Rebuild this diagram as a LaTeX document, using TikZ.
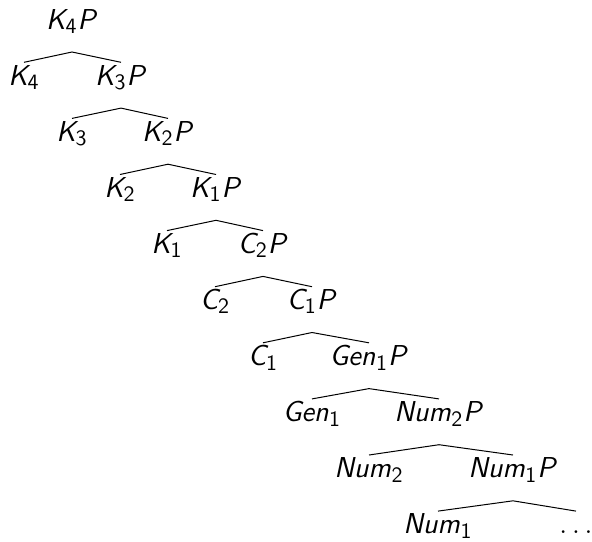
\documentclass[tikz,border=0pt]{standalone}
\DeclareMathAlphabet{\mathsfit}{OT1}{cmss}{m}{sl}
\newcommand{\cat}[2]{$\mathsfit{#1}_{\mathsf{#2}}$}
\newcommand{\catp}[2]{$\mathsfit{#1}_{\mathsf{#2}}\mathsfit{P}$}
\begin{document}
\begin{tikzpicture}[x=0.5pt,y=-0.5pt,
  lbl/.style={inner sep=0.6pt,anchor=base,text height=10.6pt,text depth=3pt,
    font=\fontsize{15}{17}\selectfont},
  edge/.style={line width=0.5pt}]
\useasboundingbox (0,0) rectangle (592,541);
\def\st{56.1}
% row 1
\node[lbl] (r1) at (72,29) {\catp{K}{4}};
% row 2
\node[lbl] (l2) at (24,29+\st) {\cat{K}{4}};
\node[lbl] (r2) at (121,29+\st) {\catp{K}{3}};
% row 3
\node[lbl] (l3) at (72,29+2*\st) {\cat{K}{3}};
\node[lbl] (r3) at (168,29+2*\st) {\catp{K}{2}};
% row 4
\node[lbl] (l4) at (120,29+3*\st) {\cat{K}{2}};
\node[lbl] (r4) at (216,29+3*\st) {\catp{K}{1}};
% row 5
\node[lbl] (l5) at (167,29+4*\st) {\cat{K}{1}};
\node[lbl] (r5) at (263,29+4*\st) {\catp{C}{2}};
% row 6
\node[lbl] (l6) at (215,29+5*\st) {\cat{C}{2}};
\node[lbl] (r6) at (312,29+5*\st) {\catp{C}{1}};
% row 7
\node[lbl] (l7) at (263,29+6*\st) {\cat{C}{1}};
\node[lbl] (r7) at (369,29+6*\st) {\catp{Gen}{1}};
% row 8
\node[lbl] (l8) at (312,29+7*\st) {\cat{Gen}{1}};
\node[lbl] (r8) at (439,29+7*\st) {\catp{Num}{2}};
% row 9
\node[lbl] (l9) at (369,29+8*\st) {\cat{Num}{2}};
\node[lbl] (r9) at (513,29+8*\st) {\catp{Num}{1}};
% row 10
\node[lbl] (l10) at (438,29+9*\st) {\cat{Num}{1}};
\node[lbl] (r10) at (576,29+9*\st) {$\dots$};
% edges
\foreach \p/\n in {r1/2,r2/3,r3/4,r4/5,r5/6,r6/7,r7/8,r8/9,r9/10}{
  \draw[edge] (l\n.north) -- ([yshift=-11.5pt]\p.base) -- (r\n.north);
}
\end{tikzpicture}
\end{document}
